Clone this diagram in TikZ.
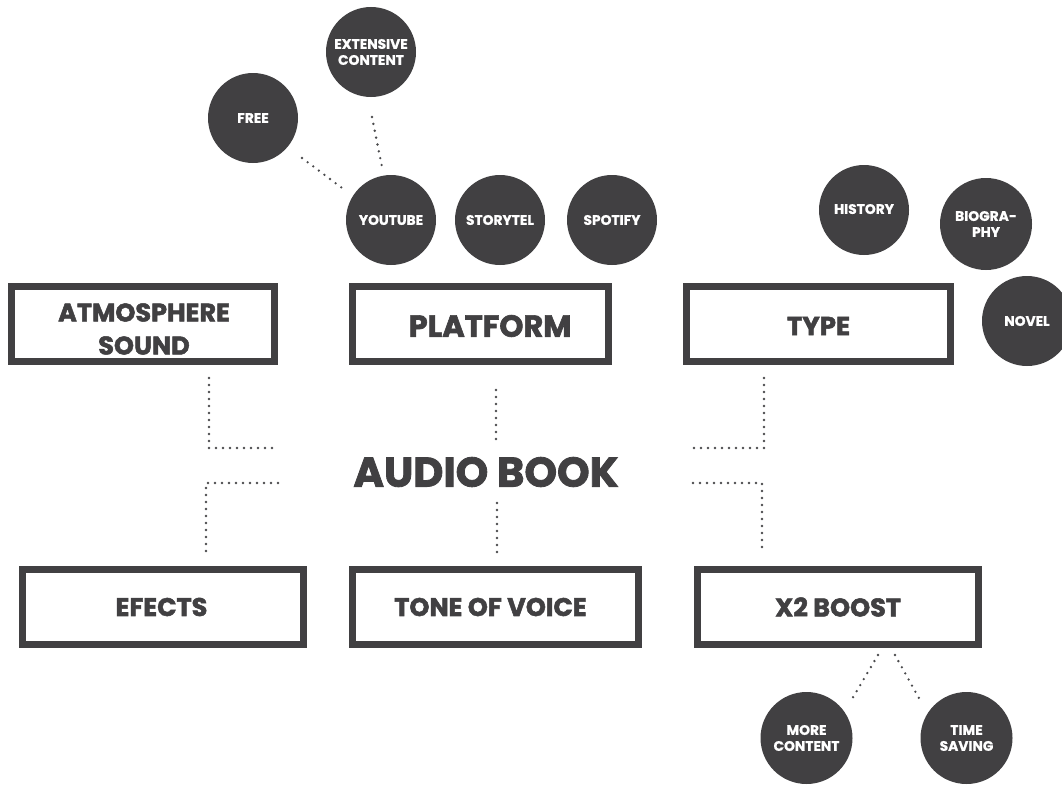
\documentclass[tikz,border=0pt]{standalone}
\usepackage{fontspec}
\setmainfont{Poppins}[BoldFeatures={FakeBold=2}]
\newfontfamily\circfont{Poppins}[BoldFeatures={FakeBold=1}]
\definecolor{dk}{HTML}{414042}
\definecolor{dot}{HTML}{4A4A4C}
\begin{document}
\begin{tikzpicture}[x=1pt,y=-1pt,
  circ/.style={circle,fill=dk,draw=none,minimum size=90pt,inner sep=0pt,text=white,align=center,font=\circfont\bfseries\fontsize{13.8}{16}\selectfont},
  boxnode/.style={draw=dk,line width=7pt,fill=white,minimum height=75pt,inner sep=0pt},
  boxtext/.style={text=dk,align=center,inner sep=0pt,font=\bfseries\fontsize{25.5}{33}\selectfont},
  dotline/.style={draw=dot,line width=2.6pt,line cap=round,dash pattern=on 0pt off 7pt}]
\useasboundingbox (0,0) rectangle (1062,784);
% boxes
\node[boxnode,minimum width=263pt] (atm) at (143,324) {};
\node[boxnode,minimum width=256pt] (plat) at (480.5,324) {};
\node[boxnode,minimum width=264pt] (type) at (818.5,324) {};
\node[boxnode,minimum width=281pt] (eff) at (163,607) {};
\node[boxnode,minimum width=286pt] (tone) at (495.5,607) {};
\node[boxnode,minimum width=281pt] (x2) at (838,607) {};
\node[boxtext] (atmT) at ([shift={(1,5)}]atm.center) {ATMOSPHERE\\SOUND};
\node[boxtext,font=\bfseries\fontsize{30.5}{36}\selectfont] (platT) at ([shift={(9.5,2)}]plat.center) {PLATFORM};
\node[boxtext,font=\bfseries\fontsize{26}{32}\selectfont] (typeT) at ([shift={(0,2)}]type.center) {TYPE};
\node[boxtext] (effT) at ([shift={(-1.5,0)}]eff.center) {EFECTS};
\node[boxtext] (toneT) at ([shift={(-5,0)}]tone.center) {TONE OF VOICE};
\node[boxtext] (x2T) at ([shift={(0,0)}]x2.center) {X2 BOOST};
% centre
\node[text=dk,font=\bfseries\fontsize{41.5}{48}\selectfont,inner sep=0pt] (ab) at (486,472) {AUDIO BOOK};
% circles
\node[circ] (ext) at (371,52) {EXTENSIVE\\CONTENT};
\node[circ] (free) at (253,118) {FREE};
\node[circ] (yt) at (391,220) {YOUTUBE};
\node[circ] (story) at (500,220) {STORYTEL};
\node[circ] (spot) at (612,220) {SPOTIFY};
\node[circ] (hist) at (864,210) {\raisebox{2pt}{HISTORY}};
\node[circ,minimum size=92pt] (bio) at (986,224) {BIOGRA-\\PHY};
\node[circ] (novel) at (1027,321) {NOVEL};
\node[circ,minimum size=92pt] (more) at (806.5,738) {MORE\\CONTENT};
\node[circ,minimum size=92pt] (time) at (966.5,738) {TIME\\SAVING};
% dotted connectors
\draw[dotline] ([shift={(49,40)}]free.center) -- ([shift={(-49,-32)}]yt.center);
\draw[dotline] ([shift={(1,65)}]ext.center) -- ([shift={(-9,-53)}]yt.center);
\draw[dotline] ([shift={(66,13)}]atm.south) |- ([shift={(-208,-24)}]ab.center);
\draw[dotline] ([shift={(-208,11)}]ab.center) -| ([shift={(43,-14)}]eff.north);
\draw[dotline] ([shift={(15.5,25)}]plat.south) -- ([shift={(10,-31)}]ab.center);
\draw[dotline] ([shift={(11,31)}]ab.center) -- ([shift={(1.5,-13)}]tone.north);
\draw[dotline] ([shift={(-54.5,13)}]type.south) |- ([shift={(207,-24)}]ab.center);
\draw[dotline] ([shift={(207,11)}]ab.center) -| ([shift={(-76,-14)}]x2.north);
\draw[dotline] ([shift={(40,7)}]x2.south) -- ([shift={(45.5,-39)}]more.center);
\draw[dotline] ([shift={(57,7)}]x2.south) -- ([shift={(-46.5,-38)}]time.center);
\end{tikzpicture}
\end{document}
